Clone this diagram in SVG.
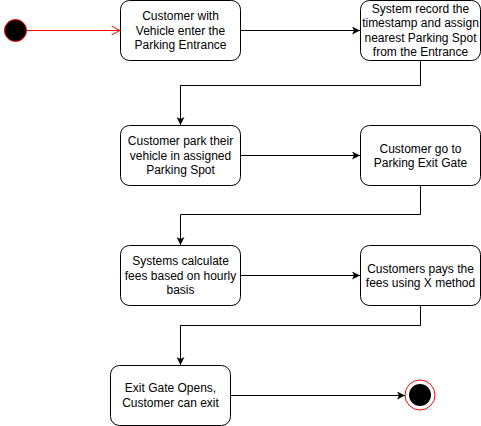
<svg xmlns="http://www.w3.org/2000/svg" width="481" height="426" viewBox="0 0 481 426">
<defs>
<style>
.node rect{fill:#fff;stroke:#000;stroke-width:1}
.node text{font-family:"Liberation Sans",Arial,Helvetica,sans-serif;font-size:12px;fill:#000;text-anchor:middle;dominant-baseline:central}
.edge{fill:none;stroke:#000;stroke-width:1}
</style>
<marker id="ah" viewBox="0 0 10 10" refX="10" refY="5" markerWidth="8" markerHeight="8" markerUnits="userSpaceOnUse" orient="auto">
<path d="M0,0 L10,5 L0,10 L2.5,5 Z" fill="#000"/>
</marker>
<marker id="ahr" viewBox="0 0 10 10" refX="9.5" refY="5" markerWidth="9" markerHeight="9" markerUnits="userSpaceOnUse" orient="auto">
<path d="M0,0 L9.5,5 L0,10" fill="none" stroke="#ff0000" stroke-width="1.1"/>
</marker>
</defs>
<rect width="481" height="426" fill="#fff"/>
<g id="start"><circle cx="15.5" cy="30.5" r="11" fill="#000" stroke="#ff0000" stroke-width="1"/></g>
<g id="end"><circle cx="420" cy="395" r="15" fill="#fff" stroke="#ff0000" stroke-width="1"/><circle cx="420" cy="395" r="11" fill="#000"/></g>
<g id="connectors">
<path d="M27,30.5 L120,30.5" fill="none" stroke="#ff0000" marker-end="url(#ahr)"/>
<path class="edge" d="M240.5,30.5 L360,30.5" marker-end="url(#ah)"/>
<path class="edge" d="M420.5,60.5 L420.5,85.5 L180.5,85.5 L180.5,125" marker-end="url(#ah)"/>
<path class="edge" d="M240.5,155.5 L360,155.5" marker-end="url(#ah)"/>
<path class="edge" d="M420.5,185.5 L420.5,214.5 L180.5,214.5 L180.5,245" marker-end="url(#ah)"/>
<path class="edge" d="M240.5,275.5 L360,275.5" marker-end="url(#ah)"/>
<path class="edge" d="M420.5,305.5 L420.5,325.5 L180.5,325.5 L180.5,365" marker-end="url(#ah)"/>
<path class="edge" d="M230.5,395.5 L405,395.5" marker-end="url(#ah)"/>
</g>
<g id="n1" class="node"><rect x="120.5" y="0.5" width="120" height="60" rx="9"/>
<text x="180.5" y="16">Customer with</text><text x="180.5" y="30.5">Vehicle enter the</text><text x="180.5" y="45">Parking Entrance</text></g>
<g id="n2" class="node"><rect x="360.5" y="0.5" width="120" height="60" rx="9"/>
<text x="420.5" y="8.5">System record the</text><text x="420.5" y="23">timestamp and assign</text><text x="420.5" y="37.5">nearest Parking Spot</text><text x="420.5" y="52">from the Entrance</text></g>
<g id="n3" class="node"><rect x="120.5" y="125.5" width="120" height="60" rx="9"/>
<text x="180.5" y="141">Customer park their</text><text x="180.5" y="155.5">vehicle in assigned</text><text x="180.5" y="170">Parking Spot</text></g>
<g id="n4" class="node"><rect x="360.5" y="125.5" width="120" height="60" rx="9"/>
<text x="420.5" y="148.5">Customer go to</text><text x="420.5" y="163">Parking Exit Gate</text></g>
<g id="n5" class="node"><rect x="120.5" y="245.5" width="120" height="60" rx="9"/>
<text x="180.5" y="261">Systems calculate</text><text x="180.5" y="275.5">fees based on hourly</text><text x="180.5" y="290">basis</text></g>
<g id="n6" class="node"><rect x="360.5" y="245.5" width="120" height="60" rx="9"/>
<text x="420.5" y="268.5">Customers pays the</text><text x="420.5" y="283">fees using X method</text></g>
<g id="n7" class="node"><rect x="110.5" y="365.5" width="120" height="60" rx="9"/>
<text x="170.5" y="388">Exit Gate Opens,</text><text x="170.5" y="402.5">Customer can exit</text></g>
</svg>
